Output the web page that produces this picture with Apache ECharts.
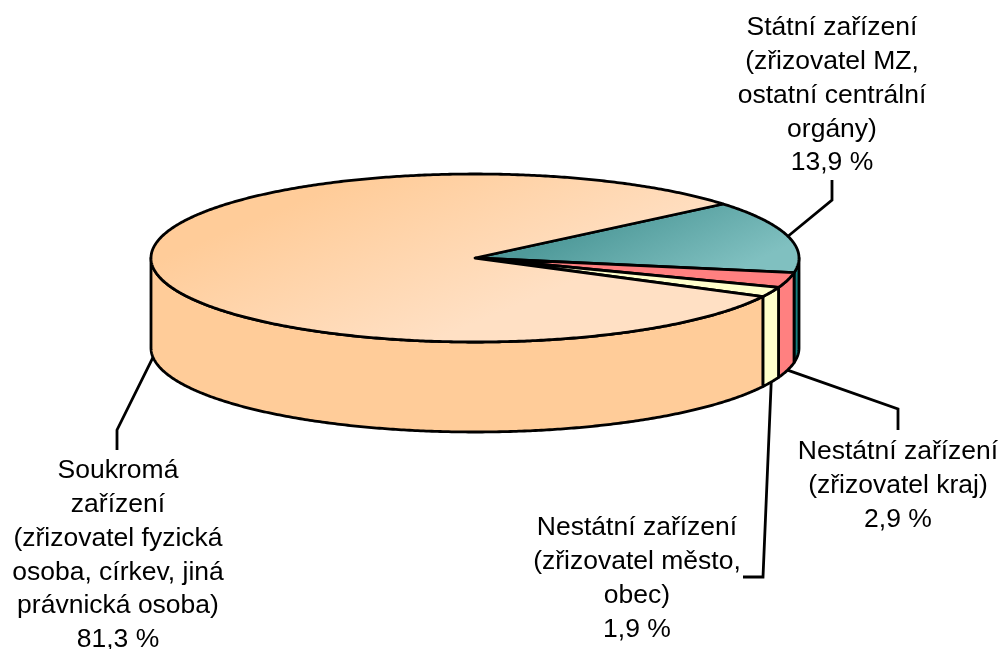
<!DOCTYPE html>
<html lang="cs">
<head>
<meta charset="utf-8">
<title>Zařízení podle zřizovatele</title>
<script src="https://cdn.jsdelivr.net/npm/echarts@6/dist/echarts.min.js"></script>
<style>
  html,body{margin:0;padding:0;background:#fff;}
  #chart{width:1003px;height:649px;}
</style>
</head>
<body>
<div id="chart"></div>
<script>
// ===== Data
const categories = [
  'Státní zařízení\n(zřizovatel MZ,\nostatní centrální\norgány)',
  'Nestátní zařízení\n(zřizovatel kraj)',
  'Nestátní zařízení\n(zřizovatel město,\nobec)',
  'Soukromá\nzařízení\n(zřizovatel fyzická\nosoba, církev, jiná\nprávnická osoba)'
];
const values = [13.9, 2.9, 1.9, 81.3];
const valueLabels = ['13,9 %', '2,9 %', '1,9 %', '81,3 %'];

// ===== Layout + styles
const CX = 475, CY = 258, RX = 324, RY = 84, DEPTH = 90;
const START_ANGLE = 40; // degrees, counter-clockwise from 3 o'clock; slices run clockwise
const wallColors = ['#167f7f', '#ff8080', '#ffffcc', '#ffcc99'];
const topColors = [
  new echarts.graphic.LinearGradient(660, 190, 705, 285, [{offset:0,color:'#4f9a9a'},{offset:1,color:'#80c0c0'}], true),
  '#ff8080',
  '#ffffcc',
  new echarts.graphic.LinearGradient(360, 175, 430, 342, [{offset:0,color:'#ffcc99'},{offset:1,color:'#ffe0c4'}], true)
];
// leader elbows, ending at the label
const leaders = [
  [[832,200],[832,180]],
  [[898,409],[898,430]],
  [[763,577],[743,577]],
  [[117,430],[117,450]]
];
const labelPos = [[832,11],[898,435],[637,511],[118,454]];
const LINE_H = 33.8;
const FONT = '"Liberation Sans", Arial, sans-serif';
const INK = '#000';
const LINE_W = 2.8;

// ===== Geometry helpers
function pt(deg, dy=0){
  const a = deg*Math.PI/180;
  return [CX + RX*Math.cos(a), CY - RY*Math.sin(a) + dy];
}
function arc(from, to, dy=0){
  const n = Math.max(2, Math.ceil(Math.abs(to-from)*2)), out = [];
  for (let i=0;i<=n;i++) out.push(pt(from + (to-from)*i/n, dy));
  return out;
}
// angles of each slice from the values
let acc = START_ANGLE;
const slices = values.map(v=>{
  const s = {from:acc, to:acc - v*3.6};
  acc = s.to;
  return s;
});

function renderSlice(params, api){
  const i = params.dataIndex;
  const {from,to} = slices[i];
  const children = [];

  // side wall: only the part facing the viewer (lower half)
  const wFrom = Math.min(from, 0), wTo = Math.max(to, -180);
  if (wFrom > wTo) {
    const top = arc(wFrom, wTo), bottom = arc(wTo, wFrom, DEPTH);
    children.push({
      type:'polygon', shape:{points:top.concat(bottom)},
      style:{fill:wallColors[i], stroke:INK, lineWidth:LINE_W, lineJoin:'round'}
    });
  }
  // top face
  children.push({
    type:'polygon', shape:{points:[[CX,CY]].concat(arc(from,to))},
    style:{fill:topColors[i], stroke:INK, lineWidth:LINE_W, lineJoin:'round'}
  });

  // leader from middle of the slice edge
  const mid = (from+to)/2;
  const onWall = Math.sin(mid*Math.PI/180) < 0;
  children.push({
    type:'polyline', shape:{points:[pt(mid, onWall?DEPTH:0)].concat(leaders[i])},
    style:{fill:null, stroke:INK, lineWidth:LINE_W}
  });

  // label
  children.push({
    type:'text', x:labelPos[i][0], y:labelPos[i][1],
    style:{
      text:categories[api.value(0)]+'\n'+valueLabels[i],
      font:'26.5px '+FONT, fill:'#000', align:'center', verticalAlign:'top', lineHeight:LINE_H
    }
  });
  return {type:'group', children};
}

// ===== Init
const chart = echarts.init(document.getElementById('chart'));
chart.setOption({
  backgroundColor:'#fff',
  animation:false,
  series:[{
    type:'custom',
    coordinateSystem:'none',
    renderItem:renderSlice,
    data:values.map((v,i)=>[i,v])
  }]
});
</script>
</body>
</html>
